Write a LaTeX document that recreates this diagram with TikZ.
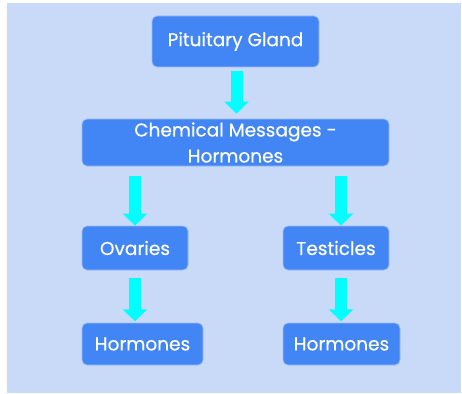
\documentclass[tikz,border=0pt]{standalone}
\usepackage{fontspec}
\setmainfont{Poppins}
\newfontfamily\boxfont{Poppins}[FakeBold=0.5]
\usetikzlibrary{arrows.meta,calc}
\definecolor{bgblue}{HTML}{C9DAF8}
\definecolor{boxblue}{HTML}{4285F4}
\definecolor{boxedge}{HTML}{9DBDF6}
\definecolor{arrcyan}{HTML}{00FFFF}
\tikzset{
  box/.style={rectangle, rounded corners=5pt, fill=boxblue, draw=boxedge, line width=0.7pt,
    text=white, font=\boxfont\fontsize{18.5}{26}\selectfont, align=center, inner sep=0pt},
  arr/.style={draw=arrcyan, line width=12pt, -{Triangle[length=12pt,width=24pt]}, arrcyan},
}
\begin{document}
\begin{tikzpicture}[x=1pt,y=-1pt]
\useasboundingbox (0,0) rectangle (462,393);
\fill[bgblue] (7,3) rectangle (461,393);
\node[box, minimum width=167pt, minimum height=51pt] (pit) at (235.5,41.5) {Pituitary Gland};
\node[box, minimum width=307pt, minimum height=47pt] (chem) at (235.5,142.5) {Chemical Messages -\\Hormones};
\node[box, minimum width=106pt, minimum height=44pt] (ov) at (135,248) {Ovaries};
\node[box, minimum width=106pt, minimum height=44pt] (tes) at (336,248) {Testicles};
\node[box, minimum width=121pt, minimum height=42pt] (h1) at (142.5,344) {Hormones};
\node[box, minimum width=117pt, minimum height=42pt] (h2) at (341.5,344) {Hormones};
\draw[arr] ($(pit.south)+(1pt,-4pt)$) -- ($(chem.north)+(1pt,5pt)$);
\draw[arr] ($(chem.south -| ov.north)+(0,-10pt)$) -- (ov.north);
\draw[arr] ($(chem.south -| tes.north)+(5pt,-10pt)$) -- ($(tes.north)+(5pt,0)$);
\draw[arr] ($(ov.south)+(0,-8pt)$) -- ($(ov.south)+(0,-51pt)$);
\draw[arr] ($(tes.south)+(5pt,-8pt)$) -- ($(tes.south)+(5pt,-51pt)$);
\end{tikzpicture}
\end{document}
